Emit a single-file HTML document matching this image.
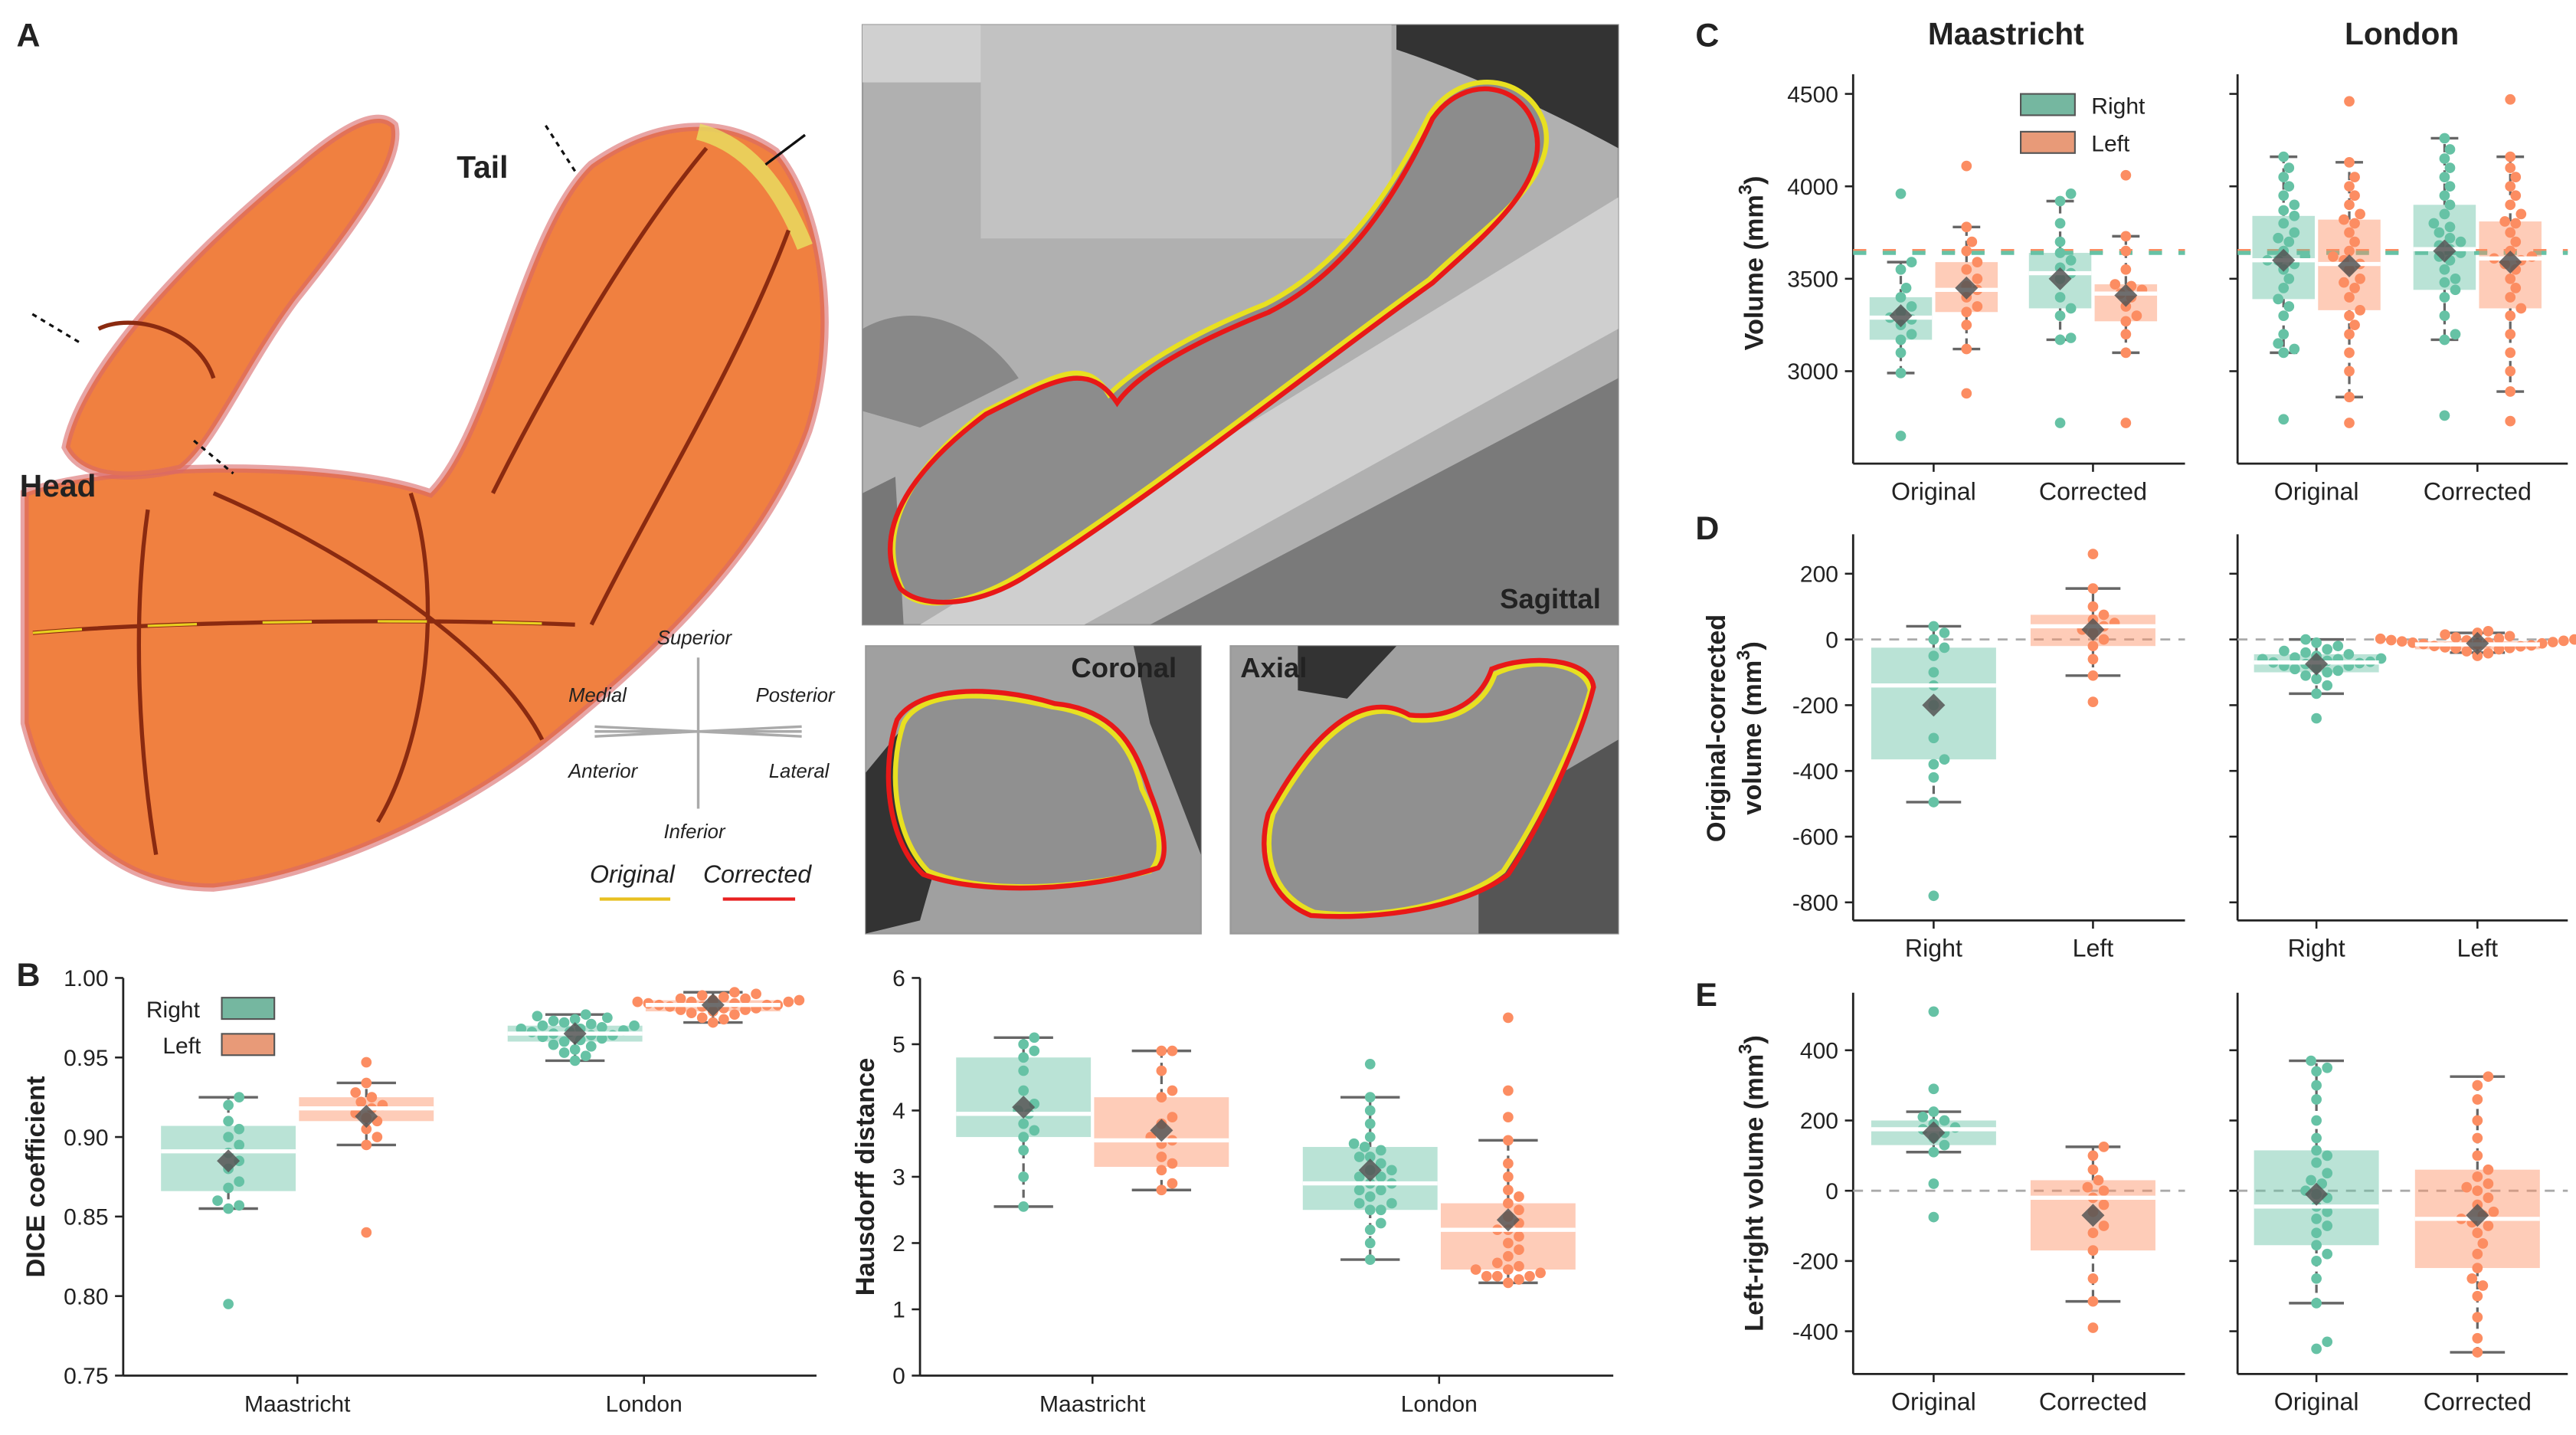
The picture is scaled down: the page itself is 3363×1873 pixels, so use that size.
<!DOCTYPE html>
<html><head><meta charset="utf-8"><style>
html,body{margin:0;padding:0;background:#fff}
svg{display:block}
text{font-family:"Liberation Sans",Arial,sans-serif;fill:#222}
</style></head><body>
<svg id="fig" width="3363" height="1873" viewBox="0 0 1568 873" xmlns="http://www.w3.org/2000/svg">
<g id="panelA">
 <text x="10" y="28" font-size="20" font-weight="bold">A</text>
 <path d="M15,300 C60,282 200,278 262,300 C300,262 318,140 360,100 C400,72 440,70 472,92 C500,125 512,200 492,262 C470,322 420,382 332,452 C282,492 200,532 130,540 C70,540 30,500 15,440 Z" fill="#f08040" stroke="#d86868" stroke-width="5" stroke-opacity="0.6"/>
 <path d="M40,272 C50,222 120,150 182,100 C210,76 230,66 240,76 C245,96 220,132 180,182 C150,222 130,270 110,285 C80,292 50,292 40,272 Z" fill="#f08040" stroke="#d86868" stroke-width="5" stroke-opacity="0.6"/>
 <path d="M425,80 C445,85 470,100 490,150" stroke="#e8e060" stroke-width="10" fill="none" opacity="0.8"/>
 <path d="M20,385 C100,378 250,376 350,380 M90,310 C80,380 85,460 95,520 M130,300 C200,330 300,390 330,450 M250,300 C270,360 260,450 230,500 M300,300 C330,240 380,150 430,90 M360,380 C400,300 450,220 480,140 M60,200 C80,190 120,200 130,230" stroke="#8a2a10" stroke-width="2.5" fill="none"/>
 <path d="M20,385 C100,378 250,376 350,380" stroke="#e8d020" stroke-width="1.5" fill="none" stroke-dasharray="30 40"/>
 <text x="278" y="108" font-size="19" font-weight="bold">Tail</text>
 <text x="12" y="302" font-size="19" font-weight="bold">Head</text>
 <path d="M350,104 L332,76 M118,268 L142,288 M48,208 L18,190 M490,82 L466,100" stroke="#111" stroke-width="1.5" stroke-dasharray="3 3" fill="none"/>
 <path d="M490,82 L466,100" stroke="#111" stroke-width="1.5"/>
 <g stroke="#aaa" stroke-width="1.6" fill="none">
  <path d="M425,400 L425,492 M362,445 L488,445 M362,442 L488,448 M362,448 L488,442"/>
 </g>
 <g font-size="12" font-style="italic" fill="#999">
  <text x="400" y="392" fill="#999">Superior</text><text x="404" y="510" fill="#999">Inferior</text>
  <text x="346" y="427" fill="#999">Medial</text><text x="460" y="427" fill="#999">Posterior</text>
  <text x="346" y="473" fill="#999">Anterior</text><text x="468" y="473" fill="#999">Lateral</text>
 </g>
 <text x="359" y="537" font-size="15" font-style="italic">Original</text>
 <line x1="365" y1="547" x2="408" y2="547" stroke="#e8c020" stroke-width="2"/>
 <text x="428" y="537" font-size="15" font-style="italic">Corrected</text>
 <line x1="440" y1="547" x2="484" y2="547" stroke="#e82020" stroke-width="2"/>
 <g>
  <rect x="525" y="15" width="460" height="365" fill="#b0b0b0" stroke="#999"/>
  <rect x="525" y="15" width="72" height="35" fill="#d0d0d0"/>
  <rect x="597" y="15" width="250" height="130" fill="#c2c2c2"/>
  <path d="M850,15 L985,15 L985,90 C930,60 880,40 850,30Z" fill="#333"/>
  <path d="M560,380 L985,120 L985,200 L660,380Z" fill="#cfcfcf"/>
  <path d="M700,380 L985,230 L985,380Z" fill="#7a7a7a"/>
  <path d="M525,200 C560,180 600,200 620,230 L560,260 L525,250Z" fill="#888"/>
  <path d="M525,300 L545,290 L550,380 L525,380Z" fill="#777"/>
  <path d="M550,360 C530,320 560,280 600,250 C640,230 660,215 675,240 C690,225 720,205 770,185 C820,160 850,110 870,70 C890,40 930,45 940,75 C950,110 900,140 870,170 C800,220 700,300 620,350 C590,368 560,372 550,360Z" fill="#8c8c8c" stroke="#e8e020" stroke-width="3"/>
  <path d="M548,358 C528,320 560,282 600,252 C640,232 662,218 680,245 C692,228 722,210 772,190 C822,165 852,115 872,72 C892,44 928,50 935,80 C942,112 905,142 872,172 C802,222 702,302 622,352 C592,370 560,370 548,358Z" fill="none" stroke="#e81818" stroke-width="3"/>
  <text x="913" y="370" font-size="17" font-weight="bold">Sagittal</text>
 </g>
 <g>
  <rect x="527" y="393" width="204" height="175" fill="#a0a0a0" stroke="#999"/>
  <path d="M527,470 L560,430 L600,420 L560,560 L527,568Z" fill="#333"/>
  <path d="M690,393 L731,393 L731,520 L700,440Z" fill="#444"/>
  <path d="M550,440 C560,420 600,420 640,430 C680,435 690,460 695,480 C705,500 710,520 700,530 C660,540 600,545 565,530 C545,510 540,470 550,440Z" fill="#909090" stroke="#e8e020" stroke-width="3"/>
  <path d="M546,438 C558,418 602,416 642,428 C682,432 692,458 700,482 C708,502 712,520 705,528 C662,542 598,545 562,532 C540,512 536,468 546,438Z" fill="none" stroke="#e81818" stroke-width="3"/>
  <text x="652" y="412" font-size="17" font-weight="bold">Coronal</text>
 </g>
 <g>
  <rect x="749" y="393" width="236" height="175" fill="#a0a0a0" stroke="#999"/>
  <path d="M790,393 L850,393 L820,425 L790,420Z" fill="#333"/>
  <path d="M900,500 L985,450 L985,568 L900,568Z" fill="#555"/>
  <path d="M775,495 C800,450 830,420 860,438 C890,440 905,425 910,410 C930,400 965,402 968,420 C960,450 935,500 915,530 C890,550 840,560 800,555 C775,545 768,520 775,495Z" fill="#909090" stroke="#e8e020" stroke-width="3"/>
  <path d="M772,495 C797,448 828,418 858,435 C888,438 903,422 908,407 C930,398 968,400 970,418 C962,450 938,502 918,532 C892,552 840,560 798,557 C772,547 765,520 772,495Z" fill="none" stroke="#e81818" stroke-width="3"/>
  <text x="755" y="412" font-size="17" font-weight="bold">Axial</text>
 </g>
</g>
<g id="charts"></g>
</svg>
<script>
// ---------- DATA ----------
const diceTicks = [0.75,0.80,0.85,0.90,0.95,1.00];
const diceCats = ["Maastricht","London"];
const diceMsRight = [0.795,0.855,0.857,0.86,0.868,0.872,0.88,0.885,0.89,0.895,0.9,0.905,0.91,0.92,0.925];
const diceMsLeft = [0.84,0.895,0.9,0.905,0.91,0.912,0.915,0.918,0.92,0.922,0.925,0.928,0.934,0.947];
const diceLdRight = [0.948,0.951,0.953,0.955,0.957,0.958,0.96,0.961,0.962,0.963,0.964,0.964,0.965,0.966,0.966,0.967,0.968,0.968,0.969,0.97,0.97,0.971,0.972,0.973,0.974,0.975,0.976,0.977];
const diceLdLeft = [0.972,0.974,0.975,0.977,0.978,0.979,0.98,0.98,0.981,0.982,0.982,0.983,0.983,0.984,0.984,0.985,0.985,0.986,0.986,0.987,0.987,0.988,0.989,0.99,0.991,0.985,0.983,0.981];
// box stats: [whiskerLow, q1, median, q3, whiskerHigh, mean]
const diceBoxMsRight = [0.855,0.866,0.891,0.907,0.925,0.885];
const diceBoxMsLeft = [0.895,0.910,0.918,0.925,0.934,0.913];
const diceBoxLdRight = [0.948,0.960,0.965,0.970,0.977,0.965];
const diceBoxLdLeft = [0.972,0.979,0.983,0.986,0.991,0.983];

const hausTicks = [0,1,2,3,4,5,6];
const hausMsRight = [2.55,3.0,3.4,3.6,3.7,3.8,3.95,4.0,4.1,4.3,4.6,4.8,4.9,5.0,5.1];
const hausMsLeft = [2.8,2.9,3.1,3.2,3.3,3.5,3.55,3.6,3.8,3.9,4.2,4.3,4.6,4.9,4.9];
const hausLdRight = [1.75,2.0,2.3,2.5,2.5,2.6,2.7,2.8,2.8,2.9,2.9,3.0,3.0,3.1,3.2,3.3,3.3,3.4,3.45,3.5,3.6,3.8,4.0,4.2,4.7,2.2,2.6,3.1];
const hausLdLeft = [1.4,1.45,1.5,1.5,1.55,1.6,1.6,1.7,1.8,1.9,2.0,2.1,2.2,2.2,2.3,2.4,2.5,2.6,2.7,2.8,3.0,3.2,3.55,3.9,4.3,5.4,1.5,1.65];
const hausBoxMsRight = [2.55,3.6,3.95,4.8,5.1,4.05];
const hausBoxMsLeft = [2.8,3.15,3.55,4.2,4.9,3.7];
const hausBoxLdRight = [1.75,2.5,2.9,3.45,4.2,3.1];
const hausBoxLdLeft = [1.4,1.6,2.2,2.6,3.55,2.35];

const volTicks = [3000,3500,4000,4500];
const volCats = ["Original","Corrected"];
const volRefRight = 3640, volRefLeft = 3650;
const volMsOrigR = [2650,2990,3100,3170,3200,3250,3280,3290,3320,3350,3400,3450,3550,3590,3960];
const volMsOrigL = [2880,3120,3250,3320,3350,3400,3440,3460,3500,3550,3590,3650,3700,3780,4110];
const volMsCorrR = [2720,3170,3180,3300,3340,3400,3500,3530,3560,3600,3640,3700,3800,3920,3960];
const volMsCorrL = [2720,3100,3200,3270,3300,3350,3400,3420,3440,3460,3470,3550,3650,3730,4060];
const volLdOrigR = [2740,3100,3120,3150,3200,3300,3390,3450,3500,3550,3580,3600,3600,3620,3650,3700,3720,3750,3800,3840,3870,3900,3950,4000,4050,4100,4160,3350];
const volLdOrigL = [2720,2860,3000,3100,3200,3300,3330,3400,3450,3500,3550,3580,3600,3620,3650,3700,3750,3800,3820,3850,3900,3950,4000,4050,4130,4460,3250,3480];
const volLdCorrR = [2760,3170,3200,3300,3400,3440,3500,3550,3600,3640,3660,3680,3700,3720,3750,3780,3800,3850,3900,3950,4000,4050,4100,4150,4200,4260,3620,3480];
const volLdCorrL = [2730,2890,3000,3100,3200,3300,3340,3400,3450,3500,3550,3600,3610,3620,3650,3700,3750,3800,3810,3850,3900,3950,4000,4050,4100,4160,4470,3580];
const volBoxMsOrigR = [2990,3170,3290,3400,3590,3300];
const volBoxMsOrigL = [3120,3320,3440,3590,3780,3450];
const volBoxMsCorrR = [3170,3340,3530,3640,3920,3500];
const volBoxMsCorrL = [3100,3270,3420,3470,3730,3410];
const volBoxLdOrigR = [3100,3390,3600,3840,4160,3600];
const volBoxLdOrigL = [2860,3330,3580,3820,4130,3570];
const volBoxLdCorrR = [3170,3440,3660,3900,4260,3650];
const volBoxLdCorrL = [2890,3340,3610,3810,4160,3590];

const diffTicks = [-800,-600,-400,-200,0,200];
const diffCats = ["Right","Left"];
const diffMsR = [-780,-495,-420,-380,-365,-300,-200,-140,-100,-50,-25,0,20,40];
const diffMsL = [-190,-110,-60,-20,0,20,30,40,50,60,75,100,155,260];
const diffLdR = [-240,-165,-140,-120,-110,-100,-95,-90,-85,-80,-75,-72,-70,-68,-65,-60,-58,-55,-50,-45,-40,-35,-30,-20,-10,0,-80,-60];
const diffLdL = [-50,-42,-36,-30,-27,-24,-21,-18,-15,-12,-10,-8,-6,-4,-2,0,3,6,10,15,20,25,-14,-20,-26,-9,-3,2];
const diffBoxMsR = [-495,-365,-140,-25,40,-200];
const diffBoxMsL = [-110,-20,40,75,155,30];
const diffBoxLdR = [-165,-100,-70,-45,0,-75];
const diffBoxLdL = [-40,-30,-15,-5,20,-12];

const lrTicks = [-400,-200,0,200,400];
const lrMsOrig = [-75,20,110,130,150,165,175,180,190,200,210,225,290,510];
const lrMsCorr = [-390,-315,-250,-170,-120,-60,-20,0,10,30,60,100,125,-100,-40];
const lrLdOrig = [-450,-430,-320,-250,-200,-155,-120,-80,-60,-45,-20,0,20,50,80,115,150,200,260,300,340,370,350,-100,-10,30,-180,100];
const lrLdCorr = [-460,-420,-360,-300,-250,-220,-180,-150,-120,-100,-80,-60,-40,-20,0,20,40,60,100,150,200,260,300,325,-270,-90,-70,10];
const lrBoxMsOrig = [110,130,175,200,225,165];
const lrBoxMsCorr = [-315,-170,-20,30,125,-70];
const lrBoxLdOrig = [-320,-155,-45,115,370,-10];
const lrBoxLdCorr = [-460,-220,-80,60,325,-70];

// ---------- DRAWING ----------
const NS = "http://www.w3.org/2000/svg";
const root = document.getElementById('charts');
const GREEN = "#66c2a5", ORANGE = "#fc8d62";
function mk(tag, attrs, parent){const e=document.createElementNS(NS,tag);for(const k in attrs)e.setAttribute(k,attrs[k]);(parent||root).appendChild(e);return e;}
function linScale(d0,d1,r0,r1){return v=>r0+(v-d0)*(r1-r0)/(d1-d0);}

function axes(cfg){
  const g = mk('g',{});
  
  
  const y = linScale(cfg.d0,cfg.d1,cfg.p0,cfg.p1);
  mk('line',{x1:cfg.x0,y1:cfg.top,x2:cfg.x0,y2:cfg.bottom,stroke:'#222','stroke-width':1.3},g);
  mk('line',{x1:cfg.x0,y1:cfg.bottom,x2:cfg.x1,y2:cfg.bottom,stroke:'#222','stroke-width':1.3},g);
  cfg.ticks.forEach(t=>{
    const yy=y(t);
    mk('line',{x1:cfg.x0-5,y1:yy,x2:cfg.x0,y2:yy,stroke:'#222','stroke-width':1.2},g);
    if(cfg.labels){const tx=mk('text',{x:cfg.x0-9,y:yy+5,'font-size':14,'text-anchor':'end'},g);tx.textContent=cfg.fmt?cfg.fmt(t):t;
      
      }
  });
  cfg.cats.forEach((c,i)=>{
    const xx=cfg.cx[i];
    mk('line',{x1:xx,y1:cfg.bottom,x2:xx,y2:cfg.bottom+5,stroke:'#222','stroke-width':1.2},g);
    const tx=mk('text',{x:xx,y:cfg.bottom+22,'font-size':cfg.catSize||14,'text-anchor':'middle'},g);tx.textContent=c;
    
    
  });
  return {g,y};
}

function swarm(vals, cx, y, g, color, r){
  const placed=[]; const d=r*2.05;
  const sorted=vals.slice().sort((a,b)=>a-b);
  sorted.forEach(v=>{
    const py=y(v); let best=cx;
    for(let k=0;k<60;k++){
      const off=(k===0?0:Math.ceil(k/2)*(k%2?1:-1))*d*0.5;
      const px=cx+off;
      if(placed.every(p=>(p[0]-px)**2+(p[1]-py)**2>=d*d*0.98)){best=px;break;}
    }
    placed.push([best,py]);
    const c=mk('circle',{cx:best,cy:py,r:r,fill:color},g);
    
    
  });
}

function box(stats, vals, cx, w, y, g, color, name){
  const bg=mk('g',{},g);
  
  
  const [wl,q1,md,q3,wh,mn]=stats;
  mk('rect',{x:cx-w/2,y:y(q3),width:w,height:y(q1)-y(q3),fill:color,opacity:0.45},bg);
  mk('line',{x1:cx,y1:y(q3),x2:cx,y2:y(wh),stroke:'#666','stroke-width':1.5,'stroke-dasharray':'5 3'},bg);
  mk('line',{x1:cx,y1:y(q1),x2:cx,y2:y(wl),stroke:'#666','stroke-width':1.5,'stroke-dasharray':'5 3'},bg);
  mk('line',{x1:cx-w*0.22,y1:y(wh),x2:cx+w*0.22,y2:y(wh),stroke:'#666','stroke-width':1.6},bg);
  mk('line',{x1:cx-w*0.22,y1:y(wl),x2:cx+w*0.22,y2:y(wl),stroke:'#666','stroke-width':1.6},bg);
  swarm(vals,cx,y,bg,color,3.2);
  mk('line',{x1:cx-w/2,y1:y(md),x2:cx+w/2,y2:y(md),stroke:'#fff','stroke-width':2.5},bg);
  const my=y(mn);
  const dm=mk('path',{d:`M${cx},${my-7} L${cx+7},${my} L${cx},${my+7} L${cx-7},${my}Z`,fill:'#555',opacity:0.85},bg);
  
  
}

function ylabel(lines,x,cy,size){
  const t=mk('text',{transform:`translate(${x},${cy}) rotate(-90)`,'font-size':size||16,'font-weight':'bold','text-anchor':'middle'});
  
  
  lines.forEach((l,i)=>{const ts=mk('tspan',{x:0,dy:i?22:0},t);ts.innerHTML=l;});
}
function label(s,x,y,size,bold,anchor){const t=mk('text',{x,y,'font-size':size,'font-weight':bold?'bold':'normal','text-anchor':anchor||'start'});t.textContent=s;return t;}

// Panel B - DICE
let pl=label('B',10,600,20,true);  
let A=axes({name:'dice-chart',x0:75,x1:497,top:595,bottom:837,d0:0.75,d1:1.0,p0:837,p1:595,ticks:diceTicks,labels:true,fmt:t=>t.toFixed(2),cats:diceCats,cx:[181,392]});
box(diceBoxMsRight,diceMsRight,139,82,A.y,A.g,GREEN,'box-dice-maastricht-right');
box(diceBoxMsLeft,diceMsLeft,223,82,A.y,A.g,ORANGE,'box-dice-maastricht-left');
box(diceBoxLdRight,diceLdRight,350,82,A.y,A.g,GREEN,'box-dice-london-right');
box(diceBoxLdLeft,diceLdLeft,434,82,A.y,A.g,ORANGE,'box-dice-london-left');
ylabel(['DICE coefficient'],27,716);
let lg=mk('g',{});  
mk('rect',{x:135,y:607,width:32,height:13,fill:'#75b7a0',stroke:'#555'},lg);
mk('rect',{x:135,y:629,width:32,height:13,fill:'#e89a78',stroke:'#555'},lg);
label('Right',89,619,14); label('Left',99,641,14);

// Hausdorff
A=axes({name:'hausdorff-chart',x0:560,x1:982,top:595,bottom:837,d0:0,d1:6,p0:837,p1:595,ticks:hausTicks,labels:true,cats:diceCats,cx:[665,876]});
box(hausBoxMsRight,hausMsRight,623,82,A.y,A.g,GREEN,'box-haus-maastricht-right');
box(hausBoxMsLeft,hausMsLeft,707,82,A.y,A.g,ORANGE,'box-haus-maastricht-left');
box(hausBoxLdRight,hausLdRight,834,82,A.y,A.g,GREEN,'box-haus-london-right');
box(hausBoxLdLeft,hausLdLeft,918,82,A.y,A.g,ORANGE,'box-haus-london-left');
ylabel(['Hausdorff distance'],532,716);

// Panel C
pl=label('C',1032,28,20,true);  
label('Maastricht',1221,27,19,true,'middle');
label('London',1462,27,19,true,'middle');
function panelSet(name,d0,d1,top,bottom,ticks,cats,ms,ld,w,refs){
  const a1=axes({name:name+'-maastricht',x0:1128,x1:1330,top:top,bottom:bottom,d0:d0[0],d1:d0[1],p0:d1[0],p1:d1[1],ticks:ticks,labels:true,cats:cats,cx:[1177,1274],catSize:15});
  const a2=axes({name:name+'-london',x0:1362,x1:1563,top:top,bottom:bottom,d0:d0[0],d1:d0[1],p0:d1[0],p1:d1[1],ticks:ticks,labels:false,cats:cats,cx:[1410,1508],catSize:15});
  [[a1,1128,1330],[a2,1362,1563]].forEach(([a,x0,x1])=>{
    refs.forEach(r=>mk('line',{x1:x0,y1:a.y(r[0]),x2:x1,y2:a.y(r[0]),stroke:r[1],'stroke-width':r[2],'stroke-dasharray':r[3]},a.g));
  });
  const cxs=[[1177,1274],[1410,1508]];
  [ms,ld].forEach((set,si)=>{
    const a=si?a2:a1;
    set.forEach((b,i)=>{
      const cx=cxs[si][b.cat]+b.off;
      box(b.stats,b.vals,cx,w,a.y,a.g,b.color,b.name);
    });
  });
}
panelSet('volume-chart',[2500,4500],[282,57],45,282,volTicks,volCats,
 [{cat:0,off:-20,stats:volBoxMsOrigR,vals:volMsOrigR,color:GREEN,name:'box-vol-ms-orig-right'},
  {cat:0,off:20,stats:volBoxMsOrigL,vals:volMsOrigL,color:ORANGE,name:'box-vol-ms-orig-left'},
  {cat:1,off:-20,stats:volBoxMsCorrR,vals:volMsCorrR,color:GREEN,name:'box-vol-ms-corr-right'},
  {cat:1,off:20,stats:volBoxMsCorrL,vals:volMsCorrL,color:ORANGE,name:'box-vol-ms-corr-left'}],
 [{cat:0,off:-20,stats:volBoxLdOrigR,vals:volLdOrigR,color:GREEN,name:'box-vol-ld-orig-right'},
  {cat:0,off:20,stats:volBoxLdOrigL,vals:volLdOrigL,color:ORANGE,name:'box-vol-ld-orig-left'},
  {cat:1,off:-20,stats:volBoxLdCorrR,vals:volLdCorrR,color:GREEN,name:'box-vol-ld-corr-right'},
  {cat:1,off:20,stats:volBoxLdCorrL,vals:volLdCorrL,color:ORANGE,name:'box-vol-ld-corr-left'}],
 38,[[volRefLeft,ORANGE,2.5,'8 10'],[volRefRight,GREEN,2.5,'8 10']]);
ylabel(['Volume (mm<tspan dy="-7" font-size="11">3</tspan><tspan dy="7">)</tspan>'],1073,160);
lg=mk('g',{});  
mk('rect',{x:1230,y:57,width:33,height:13,fill:'#75b7a0',stroke:'#555'},lg);
mk('rect',{x:1230,y:80,width:33,height:13,fill:'#e89a78',stroke:'#555'},lg);
label('Right',1273,69,14); label('Left',1273,92,14);

// Panel D
pl=label('D',1032,328,20,true);  
panelSet('difference-chart',[-800,200],[549,349],325,560,diffTicks,diffCats,
 [{cat:0,off:0,stats:diffBoxMsR,vals:diffMsR,color:GREEN,name:'box-diff-ms-right'},
  {cat:1,off:0,stats:diffBoxMsL,vals:diffMsL,color:ORANGE,name:'box-diff-ms-left'}],
 [{cat:0,off:0,stats:diffBoxLdR,vals:diffLdR,color:GREEN,name:'box-diff-ld-right'},
  {cat:1,off:0,stats:diffBoxLdL,vals:diffLdL,color:ORANGE,name:'box-diff-ld-left'}],
 76,[[0,'#aaa',1.3,'6 5']]);
ylabel(['Original-corrected','volume (mm<tspan dy="-7" font-size="11">3</tspan><tspan dy="7">)</tspan>'],1050,443);

// Panel E
pl=label('E',1032,612,20,true);  
panelSet('left-right-chart',[-400,400],[810,639],604,836,lrTicks,volCats,
 [{cat:0,off:0,stats:lrBoxMsOrig,vals:lrMsOrig,color:GREEN,name:'box-lr-ms-orig'},
  {cat:1,off:0,stats:lrBoxMsCorr,vals:lrMsCorr,color:ORANGE,name:'box-lr-ms-corr'}],
 [{cat:0,off:0,stats:lrBoxLdOrig,vals:lrLdOrig,color:GREEN,name:'box-lr-ld-orig'},
  {cat:1,off:0,stats:lrBoxLdCorr,vals:lrLdCorr,color:ORANGE,name:'box-lr-ld-corr'}],
 76,[[0,'#aaa',1.3,'6 5']]);
ylabel(['Left-right volume (mm<tspan dy="-7" font-size="11">3</tspan><tspan dy="7">)</tspan>'],1073,720);
</script>
</body></html>
